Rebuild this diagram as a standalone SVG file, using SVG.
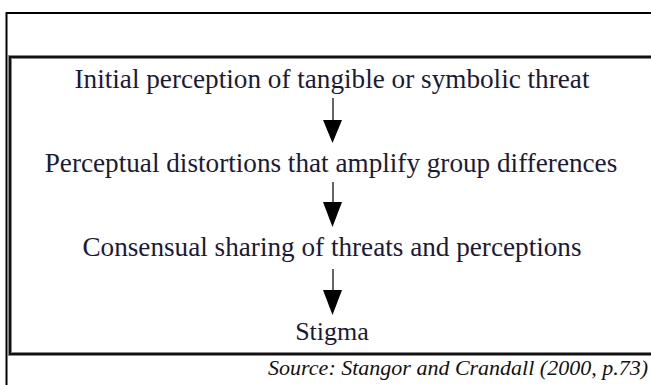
<svg xmlns="http://www.w3.org/2000/svg" width="651" height="385" viewBox="0 0 651 385">
<defs>
<style>
.t{font-family:"Liberation Serif","Times New Roman",serif;font-size:27.2px;fill:#1a1a38;text-anchor:middle}
.src{font-family:"Liberation Serif","Times New Roman",serif;font-size:22px;font-style:italic;fill:#111;text-anchor:end}
.shaft{stroke:#666;stroke-width:2}
.head{fill:#000}
</style>
</defs>
<rect width="651" height="385" fill="#fff"/>
<g id="frame">
<path d="M6.5 385 V13 H660" fill="none" stroke="#000" stroke-width="2"/>
<rect x="10" y="57" width="660" height="297" fill="none" stroke="#888" stroke-width="4"/>
<rect x="10" y="57" width="660" height="297" fill="none" stroke="#111" stroke-width="2"/>
</g>
<g id="n1"><text class="t" x="332" y="87.5">Initial perception of tangible or symbolic threat</text></g>
<g id="n2"><text class="t" x="331" y="171.5">Perceptual distortions that amplify group differences</text></g>
<g id="n3"><text class="t" x="332" y="255.5">Consensual sharing of threats and perceptions</text></g>
<g id="n4"><text class="t" x="332" y="340" style="font-size:26px">Stigma</text></g>
<g id="connectors">
<line class="shaft" x1="333" y1="98" x2="333" y2="121"/>
<polygon class="head" points="323,120 342,120 332.5,143"/>
<line class="shaft" x1="333" y1="182" x2="333" y2="203"/>
<polygon class="head" points="323,202 342,202 332.5,227"/>
<line class="shaft" x1="333" y1="269" x2="333" y2="291"/>
<polygon class="head" points="323,290 342,290 332.5,315"/>
</g>
<text class="src" x="648" y="375">Source: Stangor and Crandall (2000, p.73)</text>
</svg>
